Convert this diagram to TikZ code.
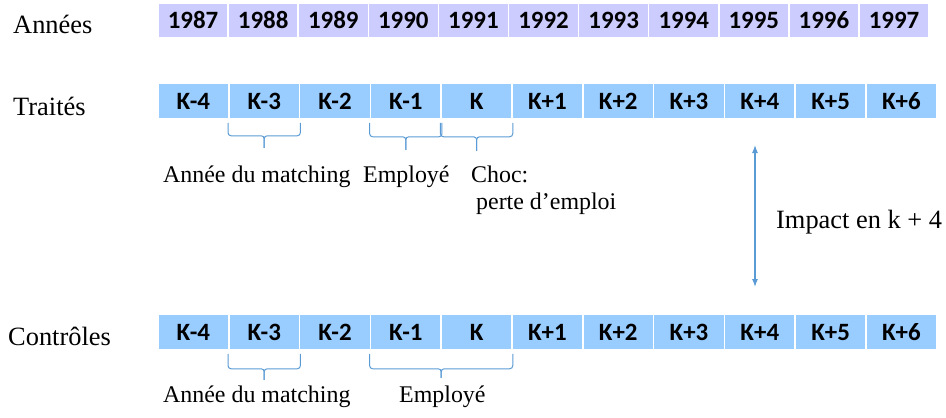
\documentclass[tikz,border=0pt]{standalone}
\usepackage{fontspec}
\setmainfont{Liberation Serif}
\newfontfamily\cellfont{Carlito}
\usetikzlibrary{calc,arrows.meta}
\definecolor{yearfill}{HTML}{CCCCFF}
\definecolor{kfill}{HTML}{99CCFF}
\definecolor{bracecol}{HTML}{5B9BD5}
\newcommand\bracket[4]{%
  \draw[bs] ([yshift=-3bp]#1) -- ([yshift=-#3 bp]#1) -- ($(#1)!0.5!(#2)+(0,#3)$) -- ++(0,#4);
  \draw[bs] ([yshift=-3bp]#2) -- ([yshift=-#3 bp]#2) -- ($(#1)!0.5!(#2)+(0,#3)$) -- ++(0,#4);
}
\begin{document}
\begin{tikzpicture}[x=1bp,y=-1bp,
  cell/.style={draw=white, line width=1.5bp, inner sep=0pt, text height=16bp, text depth=0pt,
     font=\cellfont\bfseries\fontsize{25}{28}\selectfont},
  ycell/.style={cell, fill=yearfill, minimum width=70.1bp, minimum height=35bp},
  kcell/.style={cell, fill=kfill, minimum width=70.8bp, minimum height=36bp},
  rowlab/.style={anchor=base west, inner sep=0pt, font=\fontsize{26.5}{30}\selectfont},
  sublab/.style={anchor=base west, inner sep=0pt, font=\fontsize{24}{28}\selectfont},
  bs/.style={draw=bracecol, line width=1bp, rounded corners=3bp},
  arr/.style={draw=bracecol, line width=1.2bp, {Latex[length=8bp,width=6bp]}-{Latex[length=8bp,width=6bp]}}]
\useasboundingbox (0,0) rectangle (946,417);

\foreach \lab [count=\i] in {1987,1988,1989,1990,1991,1992,1993,1994,1995,1996,1997}
  \node[ycell] (y\i) at ({158+70.1*(\i-0.5)},20.5) {\lab};
\foreach \lab [count=\i] in {K-4,K-3,K-2,K-1,K,K+1,K+2,K+3,K+4,K+5,K+6}
  \node[kcell] (t\i) at ({158+70.8*(\i-0.5)},101) {\lab};
\foreach \lab [count=\i] in {K-4,K-3,K-2,K-1,K,K+1,K+2,K+3,K+4,K+5,K+6}
  \node[kcell] (c\i) at ({158+70.8*(\i-0.5)},332) {\lab};

\node[rowlab] (lan) at (13,33) {Années};
\node[rowlab] (ltr) at (13,115) {Traités};
\node[rowlab] (lco) at (8,345) {Contrôles};

\bracket{t2.south west}{t2.south east}{16}{12}
\bracket{t4.south west}{t4.south east}{17}{13}
\bracket{t5.south west}{t5.south east}{17}{14}
\bracket{c2.south west}{c2.south east}{18}{11}
\bracket{c4.south west}{c5.south east}{18}{9}

\node[sublab] (m1) at (163,182) {Année du matching};
\node[sublab] (e1) at (363,182) {Employé};
\node[sublab] (ch) at (471,182) {Choc:};
\node[sublab] (pe) at (476,209) {perte d’emploi};
\node[sublab] (m2) at (163,402) {Année du matching};
\node[sublab] (e2) at (399,402) {Employé};

\coordinate (a1) at (755,145);
\coordinate (a2) at (755,287);
\draw[arr] (a1) -- (a2);
\node[rowlab] (imp) at (776,228) {Impact en k + 4};
\end{tikzpicture}
\end{document}
